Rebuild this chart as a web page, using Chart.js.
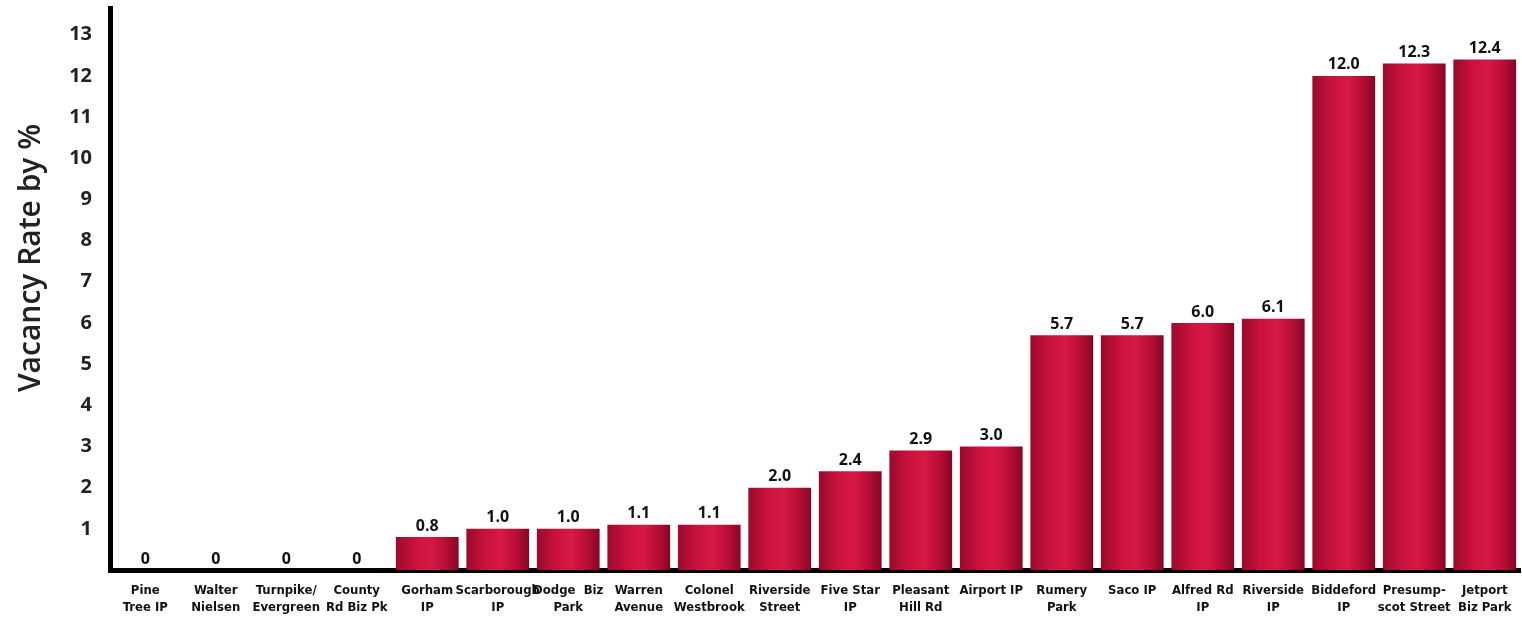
<!DOCTYPE html>
<html>
<head>
<meta charset="utf-8">
<script src="https://cdn.jsdelivr.net/npm/chart.js@4/dist/chart.umd.min.js"></script>
<style>
  html, body { margin: 0; padding: 0; background: #ffffff; }
  #wrap { position: relative; width: 1522px; height: 620px; }
</style>
</head>
<body>
<div id="wrap"><canvas id="c" width="1522" height="620"></canvas></div>
<script>
const categories = [
  ["Pine", "Tree IP"], ["Walter", "Nielsen"], ["Turnpike/", "Evergreen"], ["County", "Rd Biz Pk"],
  ["Gorham", "IP"], ["Scarborough", "IP"], ["Dodge  Biz", "Park"], ["Warren", "Avenue"],
  ["Colonel", "Westbrook"], ["Riverside", "Street"], ["Five Star", "IP"], ["Pleasant", "Hill Rd"],
  ["Airport IP"], ["Rumery", "Park"], ["Saco IP"], ["Alfred Rd", "IP"],
  ["Riverside", "IP"], ["Biddeford", "IP"], ["Presump-", "scot Street"], ["Jetport", "Biz Park"]
];
const vacancyRates = [0, 0, 0, 0, 0.8, 1.0, 1.0, 1.1, 1.1, 2.0, 2.4, 2.9, 3.0, 5.7, 5.7, 6.0, 6.1, 12.0, 12.3, 12.4];
const valueLabels = ["0", "0", "0", "0", "0.8", "1.0", "1.0", "1.1", "1.1", "2.0", "2.4", "2.9", "3.0", "5.7", "5.7", "6.0", "6.1", "12.0", "12.3", "12.4"];
const yTicks = [1, 2, 3, 4, 5, 6, 7, 8, 9, 10, 11, 12, 13];
const yTitle = "Vacancy Rate by %";

const BAR_PCT = 0.89;

function barGradient(c) {
  const ch = c.chart;
  const area = ch.chartArea;
  if (!area || !ch.scales.x) return '#c4113a';
  const xs = ch.scales.x;
  const cx = xs.getPixelForValue(c.dataIndex);
  const w = (xs.width / categories.length) * BAR_PCT;
  const g = ch.ctx.createLinearGradient(cx - w / 2, 0, cx + w / 2, 0);
  g.addColorStop(0, '#9a0a2c');
  g.addColorStop(0.3, '#c8123d');
  g.addColorStop(0.55, '#d81845');
  g.addColorStop(0.8, '#b60e36');
  g.addColorStop(1, '#860624');
  return g;
}

const valueLabelPlugin = {
  id: 'valueLabels',
  afterDatasetsDraw(chart) {
    const ctx = chart.ctx;
    const meta = chart.getDatasetMeta(0);
    ctx.save();
    ctx.font = 'bold 16px "Open Sans", sans-serif';
    ctx.fillStyle = '#111';
    ctx.textAlign = 'center';
    ctx.textBaseline = 'bottom';
    meta.data.forEach((bar, i) => {
      const yTop = Math.min(bar.y, bar.base);
      ctx.fillText(valueLabels[i], bar.x, yTop - 3);
    });
    ctx.restore();
  }
};

const yTitlePlugin = {
  id: 'yTitle',
  afterDraw(chart) {
    const ctx = chart.ctx;
    ctx.save();
    ctx.translate(31, 258);
    ctx.rotate(-Math.PI / 2);
    ctx.font = '600 30px "Open Sans", sans-serif';
    ctx.fillStyle = '#222';
    ctx.textAlign = 'center';
    ctx.textBaseline = 'middle';
    ctx.fillText(yTitle, 0, 0);
    ctx.restore();
  }
};

new Chart(document.getElementById('c'), {
  type: 'bar',
  data: {
    labels: categories,
    datasets: [{
      data: vacancyRates,
      backgroundColor: barGradient,
      borderWidth: 0,
      barPercentage: BAR_PCT,
      categoryPercentage: 1.0
    }]
  },
  options: {
    responsive: false,
    animation: false,
    layout: { padding: { top: 8, right: 2, left: 0, bottom: 0 } },
    plugins: { legend: { display: false }, tooltip: { enabled: false } },
    scales: {
      x: {
        z: 1,
        grid: { display: false, drawTicks: false },
        border: { display: true, color: '#000', width: 5 },
        ticks: {
          color: '#111',
          padding: 12,
          maxRotation: 0,
          autoSkip: false,
          font: { family: '"Liberation Sans Narrow", "DejaVu Sans Condensed", sans-serif', size: 13, weight: 'bold', lineHeight: 1.3 }
        },
        afterFit(s) { s.height = 50; s.paddingLeft = 0; s.paddingRight = 0; }
      },
      y: {
        z: 1,
        min: 0,
        max: 13.65,
        afterBuildTicks(s) { s.ticks = yTicks.map(v => ({ value: v })); },
        grid: { display: false, drawTicks: false },
        border: { display: true, color: '#000', width: 5 },
        ticks: {
          color: '#222',
          padding: 18,
          font: { family: '"Open Sans", sans-serif', size: 20, weight: 'bold' }
        },
        afterFit(s) { s.width = 110; s.paddingTop = 0; s.paddingBottom = 0; }
      }
    }
  },
  plugins: [valueLabelPlugin, yTitlePlugin]
});
</script>
</body>
</html>
